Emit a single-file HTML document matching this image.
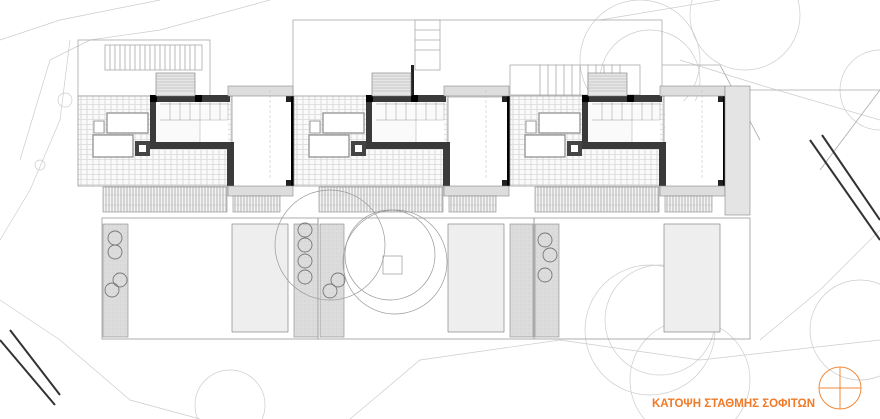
<!DOCTYPE html>
<html><head><meta charset="utf-8"><style>
html,body{margin:0;padding:0;background:#fff;width:880px;height:419px;overflow:hidden}
svg{display:block;position:absolute;left:0;top:0}
</style></head><body>
<svg width="880" height="419" viewBox="0 0 880 419" xmlns="http://www.w3.org/2000/svg">
<defs>
<pattern id="tile" width="6" height="5" patternUnits="userSpaceOnUse">
<rect width="6" height="5" fill="#fafafa"/><path d="M0 4.5H6M3 0V4.5" stroke="#c8c8c8" stroke-width="0.6"/></pattern>
<pattern id="hatch" width="3" height="10" patternUnits="userSpaceOnUse">
<rect width="3" height="10" fill="#f4f4f4"/><path d="M1 0V10" stroke="#9a9a9a" stroke-width="0.7"/><path d="M0 5H3" stroke="#bbb" stroke-width="0.4"/></pattern>
<pattern id="dots" width="4" height="4" patternUnits="userSpaceOnUse">
<rect width="4" height="4" fill="#dcdcdc"/><circle cx="1" cy="1" r="0.5" fill="#c4c4c4"/></pattern>
<g id="unit">
<rect x="78" y="96" width="154" height="90" fill="url(#tile)" stroke="#999" stroke-width="0.8"/>
<rect x="155" y="101" width="73" height="42" fill="#fff"/>
<path d="M155 101H228V120H200V143H155Z" fill="#fafafa" stroke="#aaa" stroke-width="0.5"/>
<path d="M160 104H228M160 120H200M170 101V120M180 101V120M190 101V120M200 101V120M210 101V120M220 101V120" stroke="#999" stroke-width="0.5"/>
<rect x="233" y="101" width="59" height="85" fill="#fff"/>
<rect x="107" y="113" width="41" height="20" fill="#fff" stroke="#888" stroke-width="1.2"/>
<rect x="93" y="135" width="40" height="22" fill="#fff" stroke="#888" stroke-width="1.2"/>
<rect x="94" y="121" width="10" height="12" fill="#fff" stroke="#888" stroke-width="0.8"/>
<rect x="135" y="141" width="15" height="15" fill="#444"/><rect x="139" y="145" width="7" height="7" fill="#fff"/>
<path d="M150 95H230V102H156V142H234V186H227V149H150Z" fill="#3a3a3a"/>
<rect x="150" y="95" width="7" height="7" fill="#000"/><rect x="195" y="95" width="7" height="7" fill="#000"/>
<rect x="291" y="96" width="7" height="90" fill="#000"/>
<rect x="286" y="96" width="5" height="6" fill="#222"/><rect x="286" y="180" width="5" height="6" fill="#222"/>
<rect x="228" y="86" width="65" height="10" fill="#ddd" stroke="#888" stroke-width="0.6"/>
<rect x="228" y="186" width="65" height="10" fill="#ddd" stroke="#888" stroke-width="0.6"/>
<path d="M270 90V180" stroke="#bbb" stroke-width="0.5" stroke-dasharray="3 2"/>
<rect x="156" y="73" width="39" height="23" fill="#e6e6e6" stroke="#777" stroke-width="0.6"/>
<path d="M156 76H195M156 79H195M156 82H195M156 85H195M156 88H195M156 91H195" stroke="#aaa" stroke-width="0.5"/>
<rect x="103" y="187" width="124" height="25" fill="url(#hatch)" stroke="#888" stroke-width="0.6"/>
<rect x="233" y="196" width="47" height="16" fill="url(#hatch)" stroke="#888" stroke-width="0.6"/>
<rect x="102" y="218" width="216" height="121" fill="none" stroke="#999" stroke-width="0.8"/>
<rect x="232" y="224" width="56" height="108" fill="#eee" stroke="#888" stroke-width="0.7"/>
</g>
</defs>
<g fill="none" stroke="#ccc" stroke-width="0.7">
<path d="M0 40L60 20L160 0M20 160L50 60L90 40L160 30L270 0M0 240L30 190L60 120L70 40"/>
<path d="M0 300L60 340L130 400L200 419M350 419L420 360L560 340L700 360L880 340M880 230L820 290L760 340"/>
<path d="M600 20L720 0M680 60L760 85L880 120"/>
<circle cx="640" cy="60" r="60"/><circle cx="650" cy="80" r="50"/><circle cx="745" cy="15" r="55"/>
<circle cx="650" cy="330" r="65"/><circle cx="660" cy="320" r="55"/><circle cx="880" cy="90" r="40"/>
<circle cx="860" cy="330" r="50"/><circle cx="230" cy="405" r="35"/><circle cx="690" cy="380" r="60"/>
<circle cx="65" cy="100" r="7"/><circle cx="40" cy="165" r="5"/>
</g>
<g fill="none" stroke="#aaa" stroke-width="0.8">
<rect x="293" y="20" width="369" height="77"/><rect x="78" y="40" width="132" height="56"/>
<rect x="415" y="20" width="25" height="50"/><path d="M415 30H440M415 40H440M415 50H440"/>
<rect x="105" y="45" width="97" height="25" fill="#fff"/>
<path d="M110 45V70M115 45V70M120 45V70M125 45V70M130 45V70M135 45V70M140 45V70M145 45V70M150 45V70M155 45V70M160 45V70M165 45V70M170 45V70M175 45V70M180 45V70M185 45V70M190 45V70M195 45V70"/>
<rect x="510" y="65" width="130" height="30"/>
<path d="M540 65V95M548 65V95M556 65V95M564 65V95M572 65V95M580 65V95M588 65V95M596 65V95M604 65V95M612 65V95M620 65V95"/>
<path d="M662 65H720L760 140M750 90H880L820 170"/>
</g>
<rect x="411" y="65" width="3" height="31" fill="#222"/>
<use href="#unit"/>
<use href="#unit" x="216"/>
<use href="#unit" x="432"/>
<g fill="url(#dots)" stroke="#888" stroke-width="0.6">
<rect x="103" y="224" width="25" height="113"/>
<rect x="294" y="224" width="24" height="113"/>
<rect x="320" y="224" width="24" height="113"/>
<rect x="510" y="224" width="23" height="113"/>
<rect x="535" y="224" width="24" height="113"/>
</g>
<rect x="725" y="86" width="25" height="129" fill="#e4e4e4" stroke="#888" stroke-width="0.6"/>
<path d="M810 140L880 240M822 135L880 220" stroke="#333" stroke-width="2"/>
<path d="M0 340L55 405M10 330L60 395" stroke="#333" stroke-width="2"/>
<g fill="none" stroke="#777" stroke-width="0.9">
<circle cx="115" cy="238" r="7"/><circle cx="115" cy="252" r="7"/><circle cx="120" cy="280" r="7"/><circle cx="112" cy="290" r="7"/>
<circle cx="305" cy="230" r="7"/><circle cx="305" cy="245" r="7"/><circle cx="305" cy="261" r="7"/><circle cx="305" cy="277" r="7"/>
<circle cx="338" cy="280" r="7"/><circle cx="330" cy="291" r="7"/>
<circle cx="545" cy="240" r="7"/><circle cx="550" cy="255" r="7"/><circle cx="545" cy="275" r="7"/>
</g>
<g fill="none" stroke="#999" stroke-width="0.7">
<circle cx="330" cy="245" r="55"/><circle cx="395" cy="262" r="52"/><circle cx="390" cy="255" r="45"/>
<rect x="383" y="256" width="19" height="18"/>
</g>
<circle cx="840" cy="388" r="21" fill="none" stroke="#f08a3c" stroke-width="1"/>
<path d="M819 388H861M840 367V409" stroke="#f08a3c" stroke-width="1"/>
<text x="652" y="407" font-family="Liberation Sans, sans-serif" font-weight="bold" font-size="11.5" fill="#f07a28">ΚΑΤΟΨΗ ΣΤΑΘΜΗΣ ΣΟΦΙΤΩΝ</text>
</svg>
</body></html>
